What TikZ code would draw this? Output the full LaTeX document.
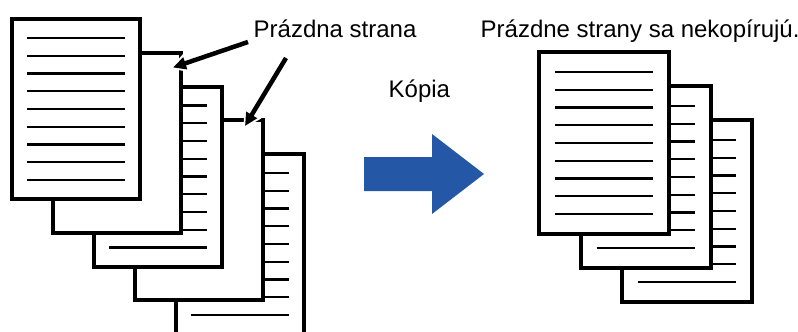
\documentclass[tikz,border=0pt]{standalone}
\usepackage{fontspec}
\setmainfont{Liberation Sans}
\usetikzlibrary{arrows.meta}
\definecolor{arrowblue}{RGB}{36,87,166}
\tikzset{
  pagebox/.style={draw=black, fill=white, line width=4pt, inner sep=0pt, outer sep=0pt, anchor=north west, rectangle},
  leftpage/.style={pagebox, minimum width=128pt, minimum height=180pt},
  rightpage/.style={pagebox, minimum width=130pt, minimum height=182pt},
  textline/.style={draw=black, line width=2.2pt},
  lbl/.style={inner sep=0pt, anchor=base west, font=\fontsize{24}{29}\selectfont},
  callout/.style={line width=4.5pt, -{Triangle[length=13pt,width=12pt]},
    preaction={draw=white, line width=9pt, shorten >=-3pt, -{Triangle[length=18pt,width=19pt]}}},
}
\begin{document}
\begin{tikzpicture}[x=1pt,y=-1pt]
\useasboundingbox (0,0) rectangle (798,332);
\clip (0,0) rectangle (798,332);
% left stack, back to front
\foreach \i in {4,3,2,1,0}{
  \node[leftpage] (L\i) at ({12+41*\i},{19+33.75*\i}) {};
  \ifodd\i\else
    \foreach \k in {0,...,8}{
      \draw[textline] ([shift={(15,{19+17.75*\k})}]L\i.north west) -- ++(98,0);
    }
  \fi
}
% right stack, back to front
\foreach \j in {2,1,0}{
  \node[rightpage] (R\j) at ({539+41.5*\j},{52+34*\j}) {};
  \foreach \k in {0,...,8}{
    \draw[textline] ([shift={(16,{20+17.75*\k})}]R\j.north west) -- ++(98,0);
  }
}
% labels
\node[lbl] (blank) at (253.5,37) {Prázdna strana};
\node[lbl] (copy) at (388.5,97) {Kópia};
\node[lbl] (result) at (480.5,37.5) {Prázdne strany sa nekopírujú.};
% callout arrows
\coordinate (a1s) at (248,42);
\coordinate (a1e) at (173,67.5);
\coordinate (a2s) at (286,58);
\coordinate (a2e) at (245,126);
\draw[callout] (a1s) -- (a1e);
\draw[callout] (a2s) -- (a2e);
% blue arrow
\coordinate (b0) at (364,157);
\fill[arrowblue] (b0) -- (432,157) -- (432,134) -- (484,174) -- (432,214) -- (432,191) -- (364,191) -- cycle;
\end{tikzpicture}
\end{document}
